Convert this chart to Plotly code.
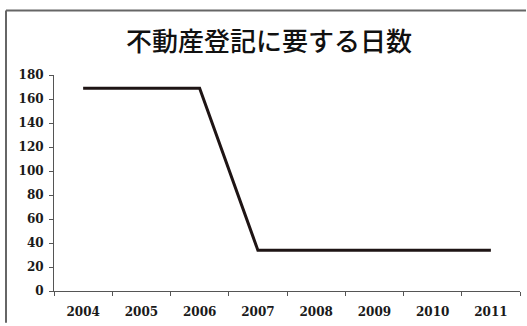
import plotly.graph_objects as go

# Days required to register property, by year
years = ["2004", "2005", "2006", "2007", "2008", "2009", "2010", "2011"]
days = [169, 169, 169, 34, 34, 34, 34, 34]
y_ticks = [0, 20, 40, 60, 80, 100, 120, 140, 160, 180]

title_text = "不動産登記に要する日数"

W, H = 527, 326
L, R, T, B = 54, 7, 75, 33
pw, ph = W - L - R, H - T - B

def px_to_paper_x(px):
    return (px - L) / pw

def px_to_paper_y(py):
    return (H - B - py) / ph

tick_font = dict(family="DejaVu Serif", size=12, color="#1a1a1a", weight="bold")
frame = dict(color="#666666", width=2)

fig = go.Figure()
fig.add_trace(go.Scatter(
    x=years, y=days, mode="lines",
    line=dict(color="#1e1414", width=3),
    hoverinfo="skip", showlegend=False,
))

fig.update_layout(
    width=W, height=H,
    margin=dict(l=L, r=R, t=T, b=B),
    paper_bgcolor="white", plot_bgcolor="white",
    title=dict(
        text=title_text, x=px_to_paper_x(269), xref="paper", xanchor="center",
        y=1 - 42 / H, yanchor="middle",
        font=dict(family="Noto Sans CJK JP", size=26, color="#111111", weight=500),
    ),
    xaxis=dict(
        type="category", range=[-0.5, 7.5],
        showgrid=False, zeroline=False,
        showline=True, linecolor="#555555", linewidth=1,
        ticks="outside", tickson="boundaries", ticklen=4, tickcolor="#555555",
        tickfont=tick_font, ticklabelstandoff=10,
    ),
    yaxis=dict(
        range=[0, 180], tickvals=y_ticks,
        showgrid=False, zeroline=False,
        showline=True, linecolor="#555555", linewidth=1,
        ticks="outside", ticklen=4, tickcolor="#555555",
        tickfont=tick_font, ticklabelstandoff=3,
    ),
    shapes=[
        # chart frame: top and left edges
        dict(type="line", xref="paper", yref="paper",
             x0=px_to_paper_x(6), x1=px_to_paper_x(W - 1),
             y0=px_to_paper_y(10), y1=px_to_paper_y(10), line=frame),
        dict(type="line", xref="paper", yref="paper",
             x0=px_to_paper_x(6), x1=px_to_paper_x(6),
             y0=px_to_paper_y(10), y1=px_to_paper_y(H - 1), line=frame),
    ],
)

fig.write_html("out.html", config={"displayModeBar": False})
